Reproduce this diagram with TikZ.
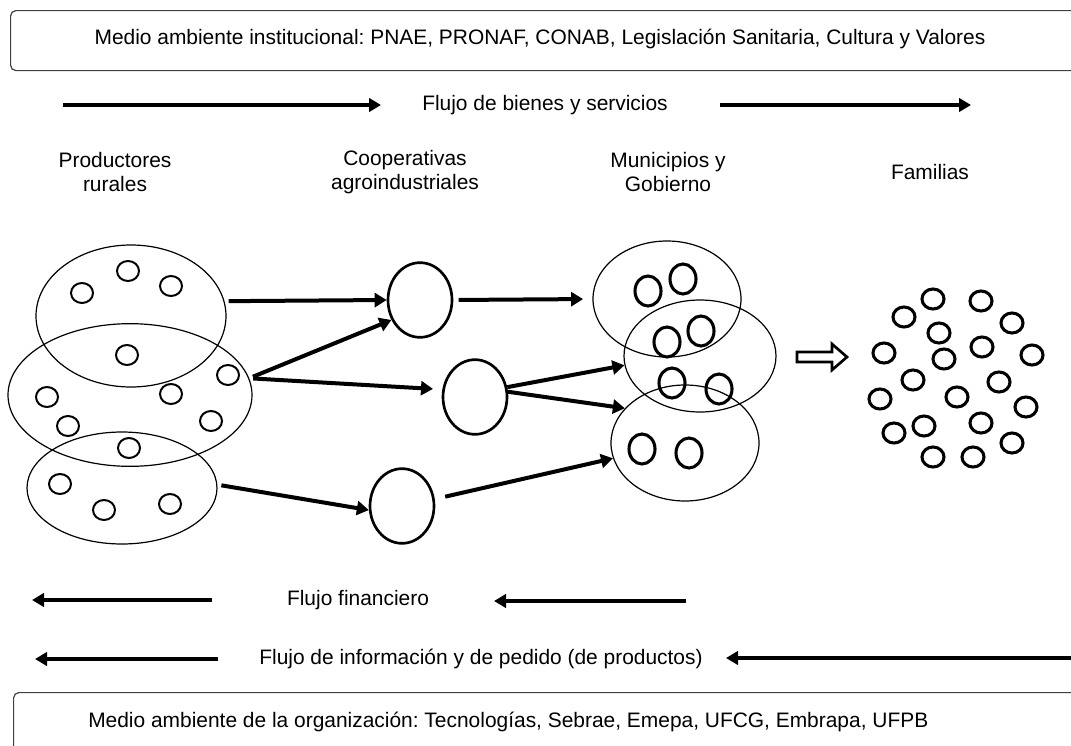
\documentclass[tikz,border=0pt]{standalone}
\usepackage{fontspec}
\setmainfont{Liberation Sans}
\frenchspacing
\usetikzlibrary{shapes.geometric,arrows.meta}
\tikzset{
  txt/.style={font=\fontsize{15.7}{18.5}\selectfont, inner sep=0pt, align=center},
  bigell/.style={draw, ellipse, line width=0.9pt, inner sep=0pt},
  pc/.style={draw, ellipse, line width=1.5pt, minimum width=16.5pt, minimum height=15pt, inner sep=0pt},
  coop/.style={draw, ellipse, line width=2pt, minimum width=48pt, minimum height=56pt, inner sep=0pt},
  mc/.style={draw, ellipse, line width=2.3pt, minimum width=19.5pt, minimum height=22.5pt, inner sep=0pt},
  fc/.style={draw, ellipse, line width=2.3pt, minimum width=16.5pt, minimum height=15pt, inner sep=0pt},
  arr/.style={line width=3pt, -{Triangle[length=9pt,width=10.5pt]}},
  flow/.style={line width=2.5pt, -{Triangle[length=9pt,width=10pt]}},
  envbox/.style={draw=black!75, line width=0.9pt, rounded corners=4pt}
}
\begin{document}
\begin{tikzpicture}[x=0.75pt,y=-0.75pt]
\useasboundingbox (0,0) rectangle (1071,746);
\clip (0,0) rectangle (1071,746);
% environment boxes
\node[envbox, minimum width=802.5pt, minimum height=45pt, anchor=north west, inner sep=0pt] (top) at (10,10) {};
\node[txt] (toptxt) at (540,39) {Medio ambiente institucional: PNAE, PRONAF, CONAB, Legislación Sanitaria, Cultura y Valores};
\node[envbox, minimum width=802.5pt, minimum height=60pt, anchor=north west, inner sep=0pt] (bot) at (13,692) {};
\node[txt, anchor=west] (bottxt) at (88,722) {Medio ambiente de la organización: Tecnologías, Sebrae, Emepa, UFCG, Embrapa, UFPB};

% flow of goods
\node[txt] (fbs) at (545,105) {Flujo de bienes y servicios};
\coordinate (g1a) at (63,105); \coordinate (g1b) at (381,105);
\coordinate (g2a) at (720,105); \coordinate (g2b) at (971,105);
\draw[flow] (g1a) -- (g1b);
\draw[flow] (g2a) -- (g2b);

% column labels
\node[txt] (lprod) at (115,172) {Productores\\rurales};
\node[txt] (lcoop) at (405,172) {Cooperativas\\agroindustriales};
\node[txt] (lmun) at (668,172) {Municipios y\\Gobierno};
\node[txt] (lfam) at (930,172) {Familias};

% producers
\node[bigell, minimum width=142.5pt, minimum height=106.5pt] (E1) at (131,316) {};
\node[bigell, minimum width=183pt, minimum height=107pt] (E2) at (130,395) {};
\node[bigell, minimum width=142.5pt, minimum height=84pt] (E3) at (122,488) {};
\node[pc] (p1) at (82,293) {};
\node[pc] (p2) at (128,271) {};
\node[pc] (p3) at (171,286) {};
\node[pc] (p4) at (127,355) {};
\node[pc] (p5) at (47,397) {};
\node[pc] (p6) at (68,426) {};
\node[pc] (p7) at (171,394) {};
\node[pc] (p8) at (228,375) {};
\node[pc] (p9) at (211,421) {};
\node[pc] (p10) at (129,448) {};
\node[pc] (p11) at (60,484) {};
\node[pc] (p12) at (104,510) {};
\node[pc] (p13) at (170,504) {};

% cooperatives
\node[coop] (C1) at (420,300) {};
\node[coop] (C2) at (475,397) {};
\node[coop] (C3) at (402,506) {};

% municipalities
\node[bigell, minimum width=111pt, minimum height=87pt] (R1) at (667,299) {};
\node[bigell, minimum width=114pt, minimum height=84pt] (R2) at (700,356) {};
\node[bigell, minimum width=111pt, minimum height=87pt] (R3) at (685,443) {};
\node[mc] (m1) at (648,291) {};
\node[mc] (m2) at (683,279) {};
\node[mc] (m3) at (667,342) {};
\node[mc] (m4) at (701,331) {};
\node[mc] (m5) at (672,383) {};
\node[mc] (m6) at (719,389) {};
\node[mc] (m7) at (642,449) {};
\node[mc] (m8) at (689,453) {};

% connectors
\draw[arr, shorten <=3pt] (E1.9) -- (C1.west);
\draw[arr, shorten <=3pt] (E2.8) -- (C1.215);
\draw[arr, shorten <=3pt, shorten >=7pt] (E2.8) -- (C2.167);
\draw[arr, shorten <=3pt] (E3.2) -- (C3.187);
\draw[arr, shorten <=4pt, shorten >=7pt] (C1.east) -- (R1.west);
\draw[arr] (C2.17) -- (R2.187);
\draw[arr] (C2.9) -- (R3.150);
\draw[arr, shorten <=8pt] (C3.12) -- (R3.192);

% hollow arrow
\draw[line width=2pt, line join=miter] (797,352) -- (832,352) -- (832,344) -- (847,357) -- (832,370) -- (832,362) -- (797,362) -- cycle;

% families
\node[fc] (f1) at (933,299) {};
\node[fc] (f2) at (981,301) {};
\node[fc] (f3) at (904,317) {};
\node[fc] (f4) at (1012,323) {};
\node[fc] (f5) at (939,333) {};
\node[fc] (f6) at (982,347) {};
\node[fc] (f7) at (884,353) {};
\node[fc] (f8) at (944,359) {};
\node[fc] (f9) at (1032,355) {};
\node[fc] (f10) at (913,380) {};
\node[fc] (f11) at (999,382) {};
\node[fc] (f12) at (880,399) {};
\node[fc] (f13) at (957,397) {};
\node[fc] (f14) at (1026,407) {};
\node[fc] (f15) at (981,423) {};
\node[fc] (f16) at (924,426) {};
\node[fc] (f17) at (894,433) {};
\node[fc] (f18) at (1012,443) {};
\node[fc] (f19) at (933,457) {};
\node[fc] (f20) at (973,457) {};

% financial flow
\node[txt] (ff) at (358,600) {Flujo financiero};
\coordinate (h1a) at (212,600); \coordinate (h1b) at (32,600);
\coordinate (h2a) at (686,601); \coordinate (h2b) at (494,601);
\draw[flow] (h1a) -- (h1b);
\draw[flow] (h2a) -- (h2b);

% information flow
\node[txt] (fi) at (481,659) {Flujo de información y de pedido (de productos)};
\coordinate (i1a) at (218,659); \coordinate (i1b) at (35,659);
\coordinate (i2a) at (1080,658); \coordinate (i2b) at (726,658);
\draw[flow] (i1a) -- (i1b);
\draw[flow] (i2a) -- (i2b);
\end{tikzpicture}
\end{document}
